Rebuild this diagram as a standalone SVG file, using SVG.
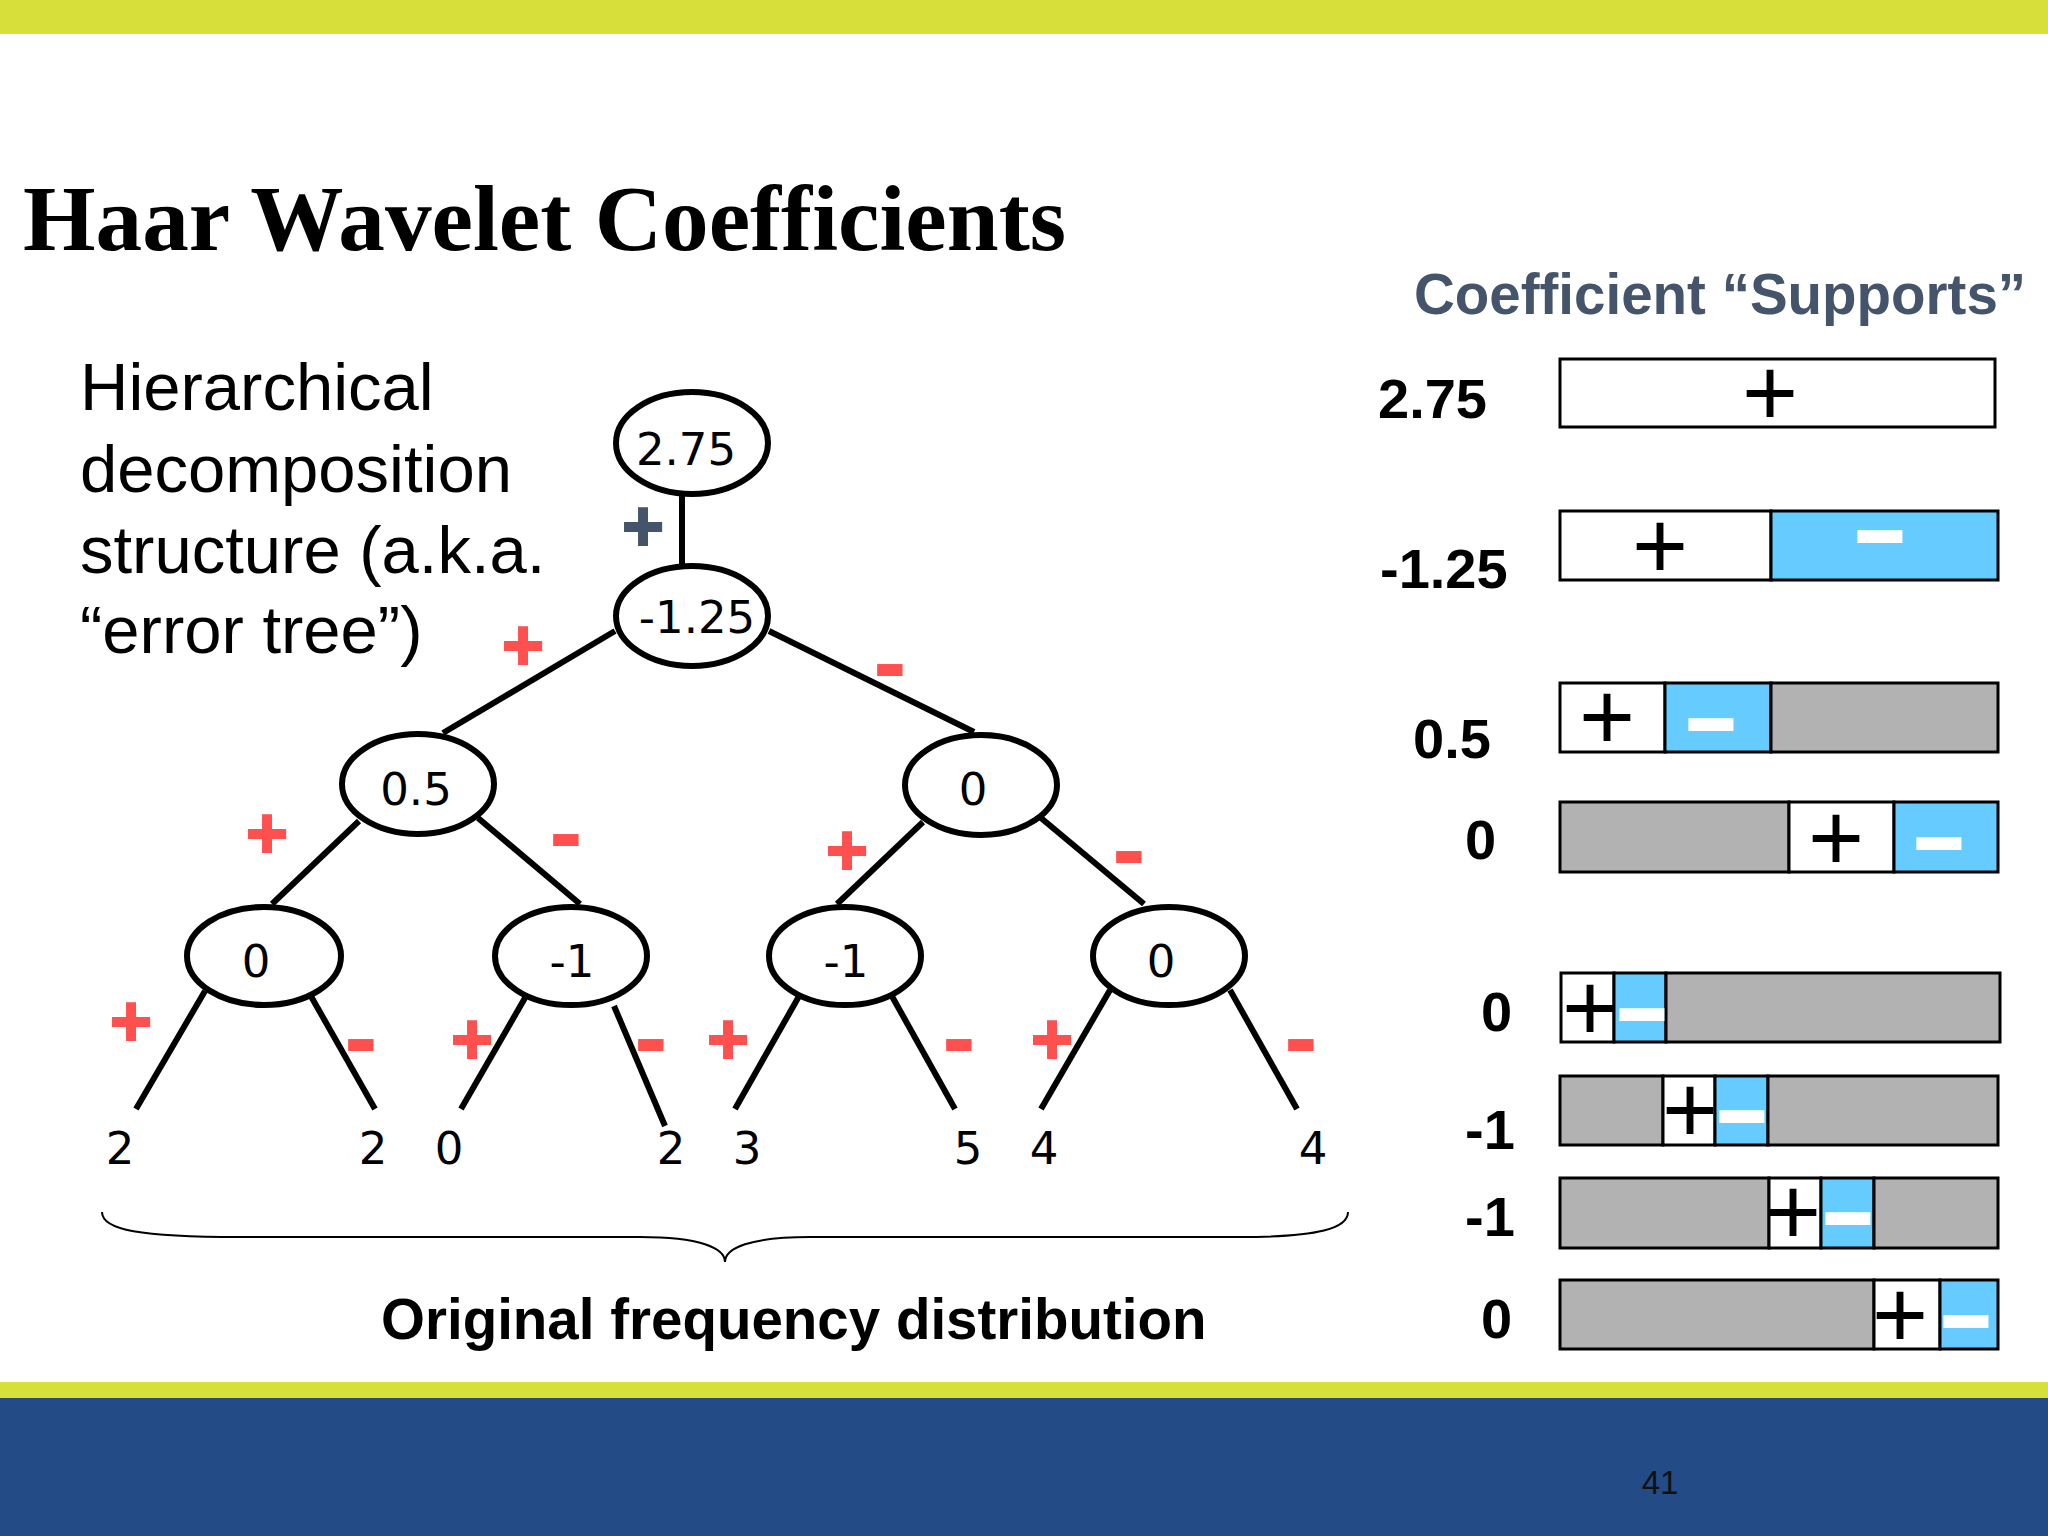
<svg xmlns="http://www.w3.org/2000/svg" width="2048" height="1536" viewBox="0 0 2048 1536">
<style>
.node ellipse{fill:#fff;stroke:#000;stroke-width:6}
.nt{font-family:"DejaVu Sans",Verdana,sans-serif;font-size:45px;fill:#000;text-anchor:middle}
.edge{stroke:#000;stroke-width:6;fill:none}
.rp{font-family:"Liberation Sans",Arial,sans-serif;font-weight:bold;font-size:72px;fill:#FF5050;stroke:#FF5050;stroke-width:2;text-anchor:middle}
.rm{font-family:"Liberation Sans",Arial,sans-serif;font-weight:bold;font-size:100px;fill:#FF5050;text-anchor:middle}
.gp{font-family:"Liberation Sans",Arial,sans-serif;font-weight:bold;font-size:72px;fill:#44546A;stroke:#44546A;stroke-width:2;text-anchor:middle}
.lab{font-family:"Liberation Sans",Arial,sans-serif;font-weight:bold;font-size:56px;fill:#000}
.bp{font-family:"Liberation Sans",Arial,sans-serif;font-size:96px;fill:#000;text-anchor:middle}
.wm{font-family:"Liberation Sans",Arial,sans-serif;font-weight:bold;font-size:107px;fill:#fff;text-anchor:middle}
.w{fill:#fff;stroke:#000;stroke-width:3}
.b{fill:#66CCFF;stroke:#000;stroke-width:3}
.g{fill:#B2B2B2;stroke:#000;stroke-width:3}
.body{font-family:"Liberation Sans",Arial,sans-serif;font-size:67px;fill:#000}
</style>
<rect x="0" y="0" width="2048" height="1536" fill="#fff"/>
<rect x="0" y="0" width="2048" height="34" fill="#D7DF3A"/>
<rect x="0" y="1382" width="2048" height="16" fill="#D7DF3A"/>
<rect x="0" y="1398" width="2048" height="138" fill="#234B86"/>
<text x="1660" y="1494" font-family="Liberation Sans,Arial,sans-serif" font-size="33" fill="#111" text-anchor="middle">41</text>

<text x="23" y="250" font-family="Liberation Serif,'Times New Roman',serif" font-weight="bold" font-size="94" fill="#000" textLength="1043" lengthAdjust="spacingAndGlyphs">Haar Wavelet Coefficients</text>
<text x="1414" y="314" font-family="Liberation Sans,Arial,sans-serif" font-weight="bold" font-size="56.5" fill="#44546A">Coefficient “Supports”</text>

<g id="description" class="body">
<text x="80" y="410">Hierarchical</text>
<text x="80" y="492">decomposition</text>
<text x="80" y="573">structure (a.k.a.</text>
<text x="80" y="653">“error tree”)</text>
</g>

<g id="connectors">
<line class="edge" x1="682" y1="495" x2="682" y2="566"/>
<line class="edge" x1="615" y1="631" x2="443" y2="733"/>
<line class="edge" x1="769" y1="631" x2="974" y2="732"/>
<line class="edge" x1="359" y1="821" x2="272" y2="904"/>
<line class="edge" x1="478" y1="818" x2="580" y2="904"/>
<line class="edge" x1="923" y1="822" x2="837" y2="904"/>
<line class="edge" x1="1041" y1="818" x2="1144" y2="904"/>
<line class="edge" x1="205" y1="991" x2="136" y2="1109"/>
<line class="edge" x1="308" y1="991" x2="375" y2="1109"/>
<line class="edge" x1="529" y1="991" x2="461" y2="1109"/>
<line class="edge" x1="614" y1="1006" x2="665" y2="1126"/>
<line class="edge" x1="802" y1="991" x2="735" y2="1109"/>
<line class="edge" x1="889" y1="991" x2="955" y2="1109"/>
<line class="edge" x1="1110" y1="990" x2="1041" y2="1109"/>
<line class="edge" x1="1230" y1="990" x2="1297" y2="1109"/>
</g>

<g id="signs">
<text class="gp" x="643" y="551">+</text>
<text class="rp" x="523" y="670">+</text>
<text class="rm" x="890" y="696">-</text>
<text class="rp" x="267" y="858">+</text>
<text class="rm" x="566" y="866">-</text>
<text class="rp" x="847" y="875">+</text>
<text class="rm" x="1129" y="883">-</text>
<text class="rp" x="131" y="1046">+</text>
<text class="rm" x="361" y="1071">-</text>
<text class="rp" x="472" y="1064">+</text>
<text class="rm" x="651" y="1071">-</text>
<text class="rp" x="728" y="1064">+</text>
<text class="rm" x="959" y="1071">-</text>
<text class="rp" x="1052" y="1064">+</text>
<text class="rm" x="1301" y="1071">-</text>
</g>

<g id="n-root" class="node"><ellipse cx="692" cy="443" rx="76" ry="51"/><text class="nt" x="686" y="465">2.75</text></g>
<g id="n-m125" class="node"><ellipse cx="692" cy="616" rx="76" ry="50"/><text class="nt" x="697" y="633" font-size="46">-1.25</text></g>
<g id="n-05" class="node"><ellipse cx="418" cy="784" rx="76" ry="50"/><text class="nt" x="416" y="805">0.5</text></g>
<g id="n-0mid" class="node"><ellipse cx="981" cy="785" rx="76" ry="50"/><text class="nt" x="973" y="805">0</text></g>
<g id="n-0L" class="node"><ellipse cx="264" cy="956" rx="77" ry="49"/><text class="nt" x="256" y="977">0</text></g>
<g id="n-m1L" class="node"><ellipse cx="571" cy="956" rx="76" ry="49"/><text class="nt" x="572" y="977">-1</text></g>
<g id="n-m1R" class="node"><ellipse cx="845" cy="956" rx="76" ry="49"/><text class="nt" x="846" y="977">-1</text></g>
<g id="n-0R" class="node"><ellipse cx="1169" cy="956" rx="76" ry="49"/><text class="nt" x="1161" y="977">0</text></g>

<g id="leaves" class="nt">
<text class="nt" x="120" y="1164">2</text>
<text class="nt" x="373" y="1164">2</text>
<text class="nt" x="449" y="1164">0</text>
<text class="nt" x="671" y="1164">2</text>
<text class="nt" x="747" y="1164">3</text>
<text class="nt" x="968" y="1164">5</text>
<text class="nt" x="1044" y="1164">4</text>
<text class="nt" x="1313" y="1164">4</text>
</g>

<path id="brace" d="M102 1212 C102 1230 140 1237 240 1237 L640 1237 C700 1237 725 1248 725 1262 C725 1248 750 1237 810 1237 L1240 1237 C1320 1237 1348 1228 1348 1212" fill="none" stroke="#000" stroke-width="2"/>
<text x="381" y="1339" font-family="Liberation Sans,Arial,sans-serif" font-weight="bold" font-size="56.5" fill="#000">Original frequency distribution</text>

<g id="labels">
<text class="lab" x="1378" y="418">2.75</text>
<text class="lab" x="1380" y="588">-1.25</text>
<text class="lab" x="1413" y="758">0.5</text>
<text class="lab" x="1465" y="859">0</text>
<text class="lab" x="1481" y="1031">0</text>
<text class="lab" x="1465" y="1149">-1</text>
<text class="lab" x="1465" y="1236">-1</text>
<text class="lab" x="1481" y="1338">0</text>
</g>

<g id="bar1"><rect class="w" x="1560" y="359" width="435" height="68"/><text class="bp" x="1770" y="426">+</text></g>
<g id="bar2"><rect class="w" x="1560" y="511" width="211" height="69"/><rect class="b" x="1771" y="511" width="227" height="69"/><text class="bp" x="1660" y="579">+</text><text class="wm" x="1880" y="565" textLength="59" lengthAdjust="spacingAndGlyphs">-</text></g>
<g id="bar3"><rect class="w" x="1560" y="683" width="105" height="69"/><rect class="b" x="1665" y="683" width="106" height="69"/><rect class="g" x="1771" y="683" width="227" height="69"/><text class="bp" x="1607" y="750">+</text><text class="wm" x="1711" y="753" textLength="59" lengthAdjust="spacingAndGlyphs">-</text></g>
<g id="bar4"><rect class="g" x="1560" y="802" width="229" height="70"/><rect class="w" x="1789" y="802" width="105" height="70"/><rect class="b" x="1894" y="802" width="104" height="70"/><text class="bp" x="1836" y="871">+</text><text class="wm" x="1939" y="872" textLength="59" lengthAdjust="spacingAndGlyphs">-</text></g>
<g id="bar5"><rect class="w" x="1561" y="973" width="53" height="69"/><rect class="b" x="1614" y="973" width="52" height="69"/><rect class="g" x="1666" y="973" width="334" height="69"/><text class="bp" x="1590" y="1041">+</text><text class="wm" x="1642" y="1043" textLength="59" lengthAdjust="spacingAndGlyphs">-</text></g>
<g id="bar6"><rect class="g" x="1560" y="1076" width="103" height="69"/><rect class="w" x="1663" y="1076" width="52" height="69"/><rect class="b" x="1715" y="1076" width="53" height="69"/><rect class="g" x="1768" y="1076" width="230" height="69"/><text class="bp" x="1690" y="1143">+</text><text class="wm" x="1742" y="1145" textLength="59" lengthAdjust="spacingAndGlyphs">-</text></g>
<g id="bar7"><rect class="g" x="1560" y="1178" width="209" height="70"/><rect class="w" x="1769" y="1178" width="52" height="70"/><rect class="b" x="1821" y="1178" width="53" height="70"/><rect class="g" x="1874" y="1178" width="124" height="70"/><text class="bp" x="1793" y="1245">+</text><text class="wm" x="1848" y="1247" textLength="59" lengthAdjust="spacingAndGlyphs">-</text></g>
<g id="bar8"><rect class="g" x="1560" y="1280" width="314" height="69"/><rect class="w" x="1874" y="1280" width="66" height="69"/><rect class="b" x="1940" y="1280" width="58" height="69"/><text class="bp" x="1900" y="1348">+</text><text class="wm" x="1966" y="1350" textLength="59" lengthAdjust="spacingAndGlyphs">-</text></g>
</svg>
